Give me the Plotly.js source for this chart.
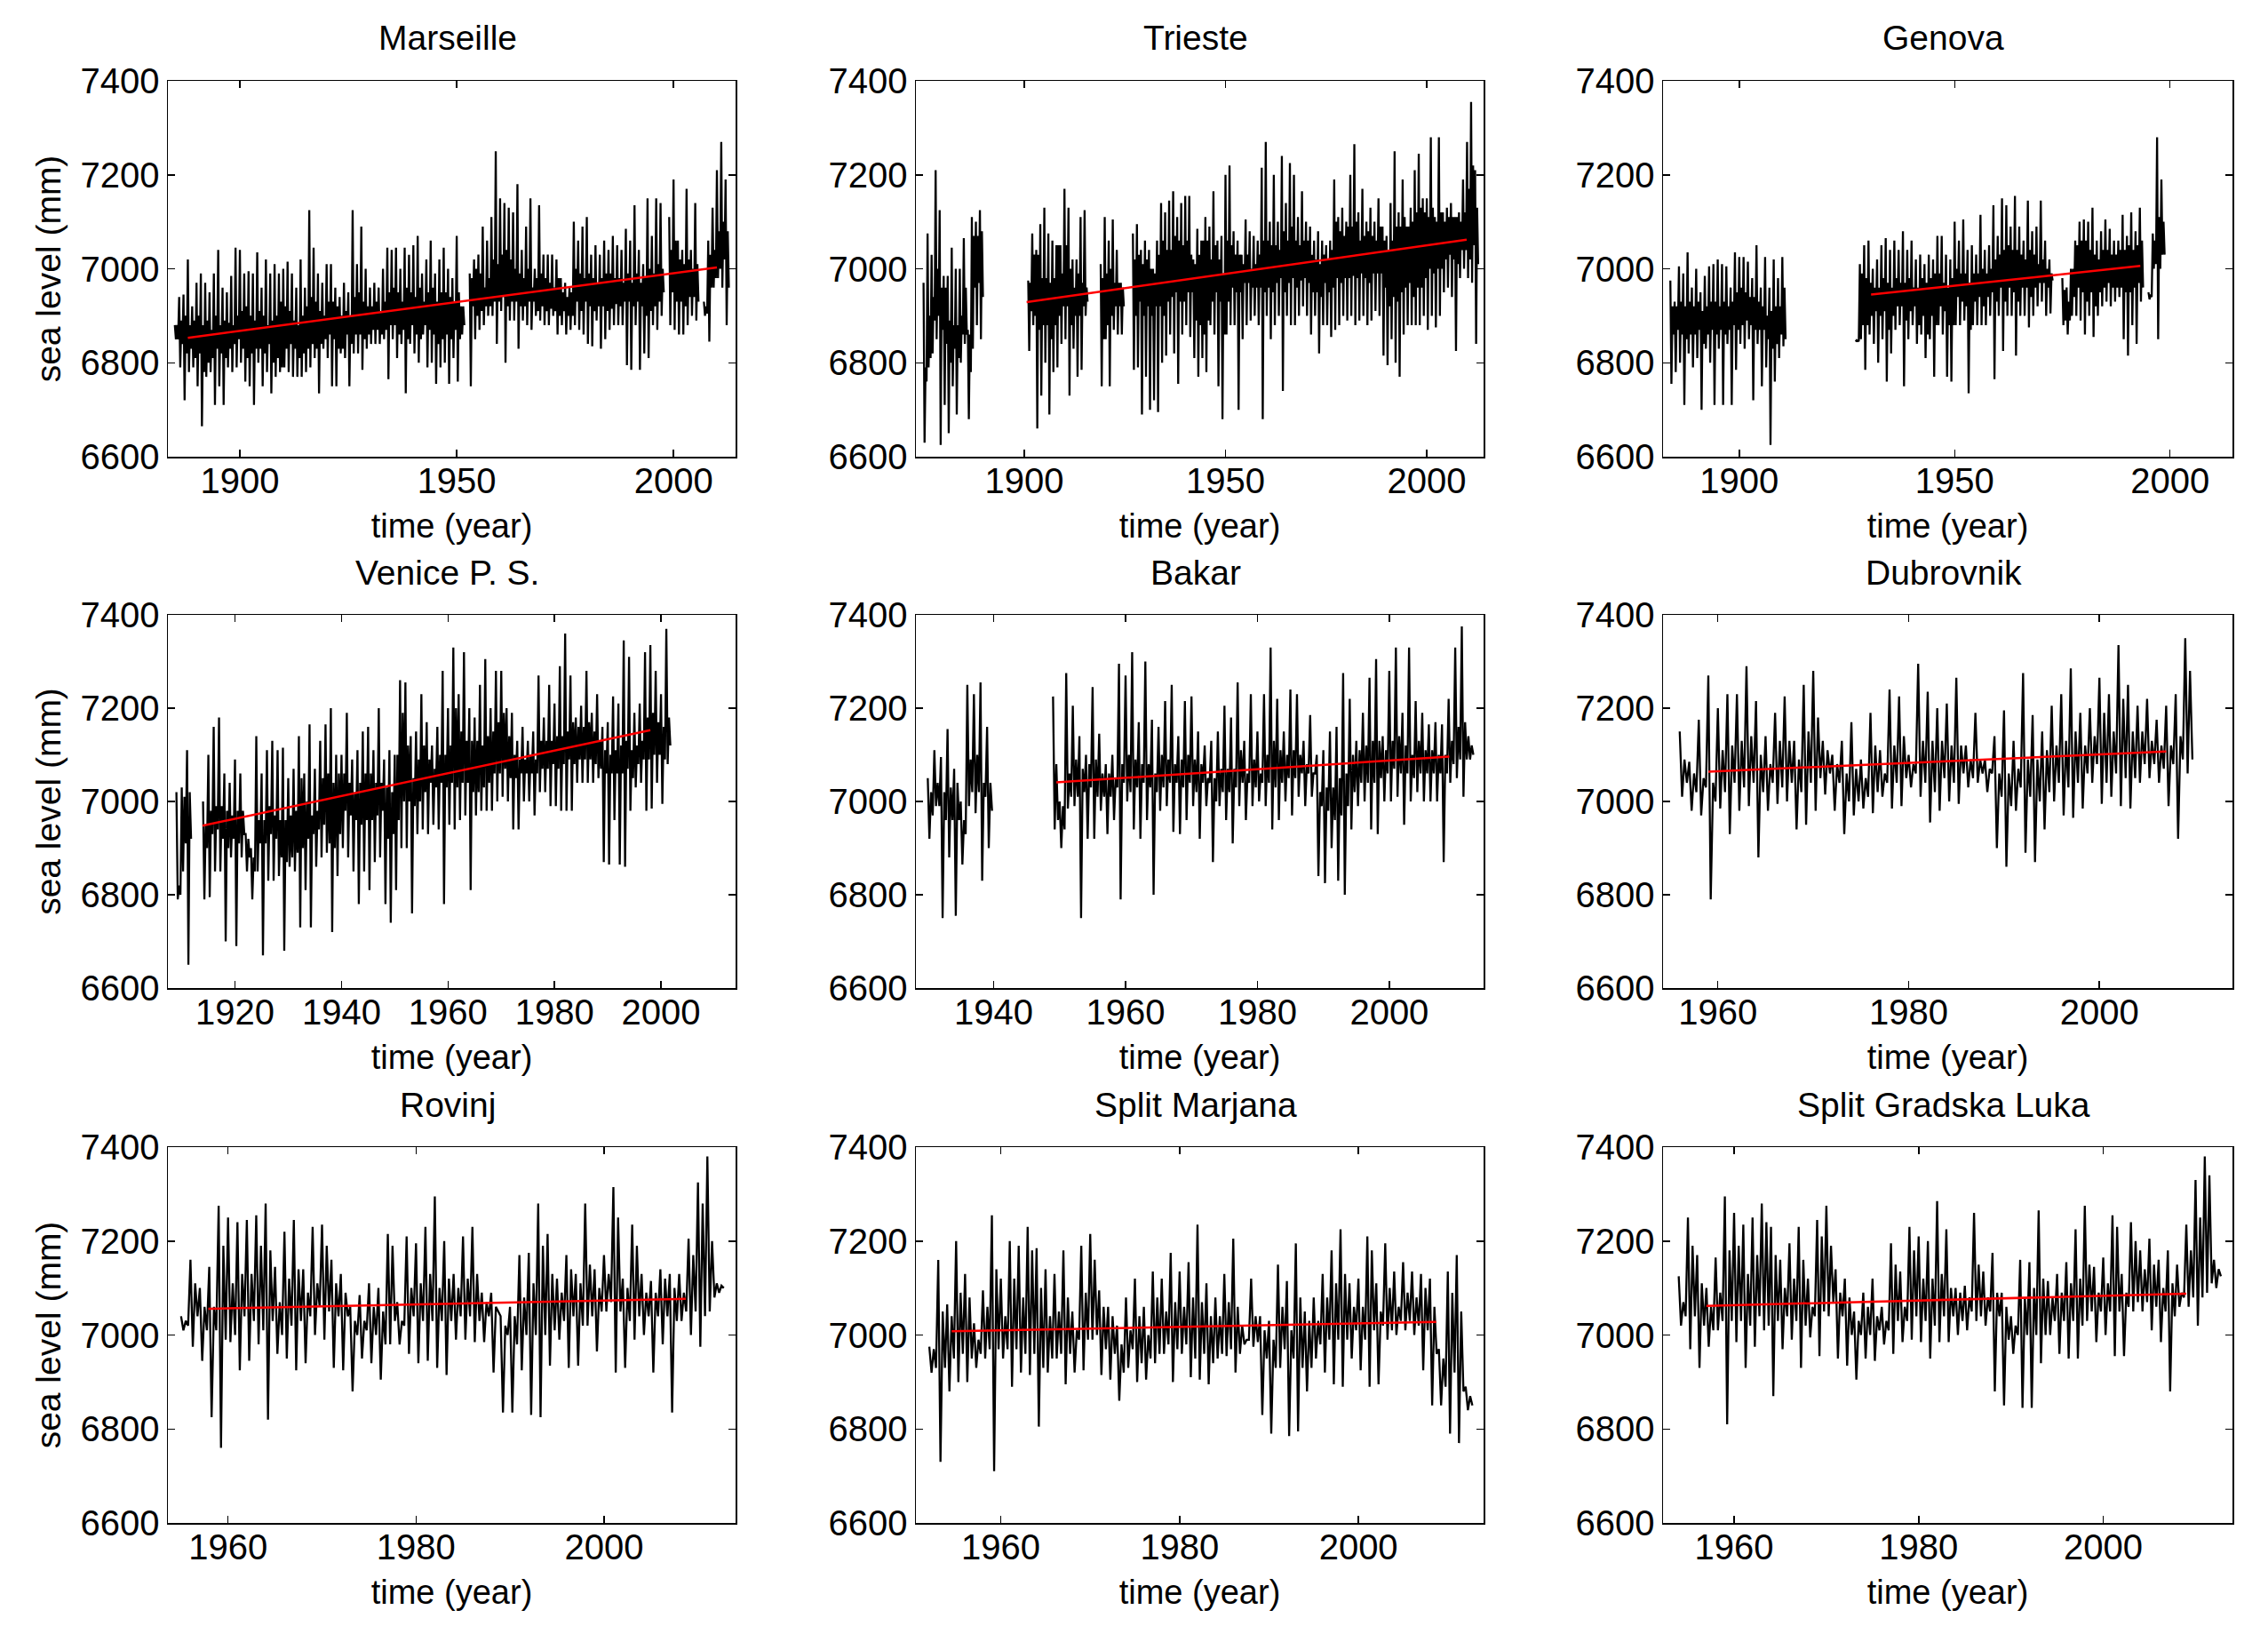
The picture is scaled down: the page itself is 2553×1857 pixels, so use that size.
<!DOCTYPE html>
<html>
<head>
<meta charset="utf-8">
<script src="https://cdn.plot.ly/plotly-3.0.1.min.js"></script>
<style>
  html, body { margin: 0; padding: 0; background: #fff; }
</style>
</head>
<body>
<div id="myChart" style="width:2553px;height:1857px;"></div>
<script>
// values, one per year from the start year (mm):
// Hi/Lo = the spikes, MidHi/MidLo = edges of the dense body of the record
const marseilleStart = 1885;
const marseilleHi = [
  6880,6940,6945,7020,6920,6970,6990,6970,6950,6990,
  7040,6960,6950,6985,7045,7040,6990,6995,6990,7035,
  6960,7020,6990,7010,6990,7000,7015,6990,6960,7020,
  6960,7125,7045,6990,6970,7010,7010,6960,6940,6970,
  6950,7125,7010,7090,7000,6960,6970,6960,7000,7045,
  7040,7045,7000,7045,7030,7050,7070,6990,7020,7060,
  6990,7020,7045,7000,6980,7070,6920,null,6990,7020,
  7030,7090,7060,7110,7250,7150,7140,7130,7120,7180,
  7040,7090,7150,7000,7135,7030,7030,7030,7020,6980,
  6970,6960,7100,7060,7090,7110,7030,7050,7030,7060,
  7040,7070,7050,7040,7085,7060,7135,7040,7010,7150,
  7070,7150,7140,null,7110,7190,7060,7040,7170,7040,
  7140,null,6930,7060,7130,7210,7270,7190];
const marseilleLo = [
  6850,6790,6720,6780,6790,6750,6665,6770,6780,6710,
  6750,6710,6790,6780,6790,6800,6760,6750,6710,6800,
  6750,6780,6735,6770,6780,6790,6780,6770,6770,6770,
  6780,6790,6810,6735,6830,6810,6750,6750,6820,6810,
  6750,6820,6820,6785,6830,6840,6840,6840,6850,6765,
  6850,6810,6840,6735,6840,6820,6800,6860,6790,6800,
  6755,6790,6800,6755,6810,6760,6860,null,6750,6850,
  6870,6880,6900,6900,6840,6910,6800,6890,6890,6830,
  6890,6880,6870,6900,6890,6880,6880,6900,6860,6880,
  6860,6870,6880,6870,6860,6840,6835,6890,6830,6850,
  6870,6880,6880,6880,6795,6785,6880,6785,6820,6810,
  6880,6870,6900,null,6880,6870,6860,6860,6880,6900,
  6890,null,6900,6845,6960,6980,6960,6880];
const marseilleMidHi = [
  6880,6890,6900,6880,6890,6900,6880,6890,6870,6900,
  6880,6890,6885,6880,6900,6910,6920,6900,6890,6910,
  6900,6880,6890,6900,6930,6920,6910,6890,6880,6900,
  6920,6940,6930,6910,6900,6930,6930,6920,6900,6910,
  6900,6940,6950,6930,6920,6920,6930,6910,6930,6950,
  6960,6950,6930,6960,6950,6940,6960,6930,6950,6960,
  6930,6950,6950,6940,6930,6950,6920,null,6980,7000,
  6990,6960,6980,7020,7010,7030,7040,7020,7000,6990,
  6980,7000,6960,6980,6990,6980,6970,6960,6980,6950,
  6940,6950,7000,6990,6980,6990,6980,6970,6980,6990,
  6990,6980,6980,6970,6990,6970,6990,6970,6980,7000,
  6990,7010,7000,null,7040,7060,7020,7010,7020,7000,
  7010,null,6920,7030,7040,7080,7100,7080];
const marseilleMidLo = [
  6850,6840,6820,6830,6810,6820,6780,6800,6810,6830,
  6820,6810,6830,6840,6850,6830,6810,6820,6830,6830,
  6820,6840,6800,6810,6790,6830,6840,6830,6810,6820,
  6830,6840,6830,6840,6850,6860,6850,6830,6830,6860,
  6840,6860,6860,6850,6860,6870,6870,6860,6870,6880,
  6880,6860,6870,6850,6880,6860,6850,6880,6870,6860,
  6840,6850,6860,6850,6870,6850,6880,null,6920,6900,
  6910,6920,6920,6930,6930,6940,6920,6930,6930,6920,
  6920,6930,6930,6910,6920,6910,6915,6910,6900,6910,
  6900,6900,6930,6910,6930,6920,6910,6920,6920,6910,
  6915,6925,6920,6930,6930,6920,6930,6920,6900,6910,
  6920,6930,6950,null,6950,6930,6930,6920,6940,6940,
  6930,null,6905,6960,6980,7000,7020,6960];
const marseilleTrendX = [1888,2010];
const marseilleTrendY = [6853,7003];
const marseilleTicks = [1900,1950,2000];
const marseilleRange = [1883.4,2014.3];

const triesteStart = 1875;
const triesteHi = [
  6970,7075,7030,7210,7125,6985,6985,7045,7000,7000,
  7065,6870,7110,7100,7125,null,null,null,null,null,
  null,null,null,null,null,null,6975,7075,7040,7095,
  7130,7075,7060,7050,7050,7170,7130,7020,7020,7110,
  7125,null,null,null,7010,7110,7060,7105,7040,6970,
  null,null,7075,7095,7040,7060,7040,7000,7060,7140,
  7120,7145,7165,7110,7140,7155,7155,7020,7085,7060,
  7110,7090,7165,7060,7070,7200,7220,7080,7060,7030,
  7105,7080,7070,7060,7215,7270,7100,7200,7100,7240,
  7140,7225,7200,7110,7165,7100,7090,7060,7080,7060,
  7050,7060,7190,7110,7130,7100,7200,7265,7120,7170,
  7100,7130,7100,7150,7090,7070,7140,7250,7120,7190,
  7090,7130,7210,7245,7150,7150,7280,7110,7280,7120,
  7130,7140,7110,7120,7190,7270,7355,7210];
const triesteLo = [
  6630,6790,6820,6850,6625,6710,6650,6750,6690,6800,
  6840,6680,6830,6880,6850,null,null,null,null,null,
  null,null,null,null,null,null,6825,6880,6660,6730,
  6800,6690,6780,6790,6840,6850,6730,6830,6770,6785,
  6900,null,null,null,6750,6850,6750,6870,6860,6860,
  null,null,6785,6790,6690,6770,6700,6720,6695,6800,
  6815,6860,6820,6755,6860,6880,6855,6810,6770,6810,
  6780,6880,6860,6750,6680,6860,6880,6880,6700,6850,
  6880,6890,6900,6880,6680,6900,6850,6880,6900,6740,
  6900,6880,6880,6900,6920,6900,6860,6900,6820,6880,
  6880,6855,6870,6880,6900,6890,6900,6880,6890,6900,
  6880,6890,6910,6900,6815,6795,6850,6800,6770,6860,
  6880,6880,6880,6880,6900,6870,6900,6875,6900,6950,
  6960,6940,6825,6980,7000,6980,6970,6840];
const triesteMidHi = [
  6790,6900,6940,7000,6960,6960,6890,6880,6880,6900,
  6960,6860,7070,7070,7080,null,null,null,null,null,
  null,null,null,null,null,null,6970,7030,7030,6980,
  6980,6970,6980,7050,6990,7050,7000,6960,6990,6970,
  6960,null,null,null,6980,6990,7000,6970,6970,6960,
  null,null,7020,7030,7010,7020,7000,6990,7030,7060,
  7040,7040,7070,7060,7050,7060,7030,7010,7030,7060,
  7060,7020,7050,7020,6990,7060,7050,7030,7030,7010,
  7030,7000,7010,7030,7060,7060,7050,7050,7040,7080,
  7060,7090,7060,7050,7060,7060,7030,7020,7010,7030,
  7020,7040,7100,7080,7070,7090,7090,7100,7060,7070,
  7080,7070,7060,7090,7060,7040,7060,7090,7090,7110,
  7090,7100,7120,7130,7120,7110,7130,7100,7120,7100,
  7110,7110,7110,7100,7120,7170,7220,7130];
const triesteMidLo = [
  6760,6810,6890,6900,6870,6840,6800,6830,6810,6860,
  6860,6780,6960,6970,6940,null,null,null,null,null,
  null,null,null,null,null,null,6910,6900,6870,6880,
  6880,6850,6880,6900,6920,6920,6880,6900,6900,6920,
  6930,null,null,null,6850,6880,6900,6920,6920,6920,
  null,null,6900,6930,6900,6920,6900,6920,6920,6900,
  6930,6940,6950,6930,6930,6950,6950,6890,6880,6860,
  6890,6930,6950,6930,6860,6930,6960,6950,6950,6970,
  6970,6960,6960,6960,6950,6960,6950,6970,6980,6950,
  6970,6980,6960,6975,6980,6970,6950,6950,6940,6970,
  6950,6960,6980,6970,6980,6980,6985,6980,6990,6980,
  6970,6990,6990,6990,6960,6920,6940,6930,6950,6960,
  6970,6940,6960,6960,6980,7000,6990,7000,7000,7020,
  7030,7020,7010,7040,7040,7020,7050,7010];
const triesteTrendX = [1900.6,2009.9];
const triesteTrendY = [6929,7062];
const triesteTicks = [1900,1950,2000];
const triesteRange = [1873.1,2014.1];

const genovaStart = 1884;
const genovaHi = [
  6975,6930,7005,6990,7035,6960,7000,6950,6985,7005,
  7010,7020,7010,7005,6960,7035,7025,7025,7015,6980,
  7050,6960,7025,6960,7020,6980,7025,null,null,null,
  null,null,null,null,null,null,null,null,null,null,
  null,null,null,6845,7010,7050,7060,7000,7020,7050,
  7065,7040,7060,7040,7080,7040,7060,7020,7030,7010,
  7030,7020,7070,7070,7030,7020,7100,7060,7105,7040,
  7050,7030,7115,7040,7050,7135,7070,7150,7135,7090,
  7155,7090,7060,7145,7080,7090,7145,7060,7020,null,
  null,6980,6960,7000,7060,7100,7105,7100,7130,7060,
  7080,7105,7085,7060,7060,7115,7070,7120,7080,7130,
  null,6950,7075,7280,7190];
const genovaLo = [
  6755,6780,6800,6710,6820,6790,6810,6700,6830,6800,
  6710,6830,6710,6840,6710,6785,6840,6830,6850,6720,
  6840,6750,6790,6625,6760,6810,6835,null,null,null,
  null,null,null,null,null,null,null,null,null,null,
  null,null,null,6848,6850,6785,6860,6840,6800,6850,
  6760,6820,6870,6880,6750,6850,6880,6840,6860,6810,
  6850,6770,6880,6860,6770,6760,6880,6880,6890,6735,
  6880,6880,6880,6880,6900,6765,6900,6825,6900,6900,
  6815,6900,6900,6875,6900,6920,6930,6900,6905,null,
  null,6880,6860,6900,6900,6890,6860,6900,6855,6900,
  6920,6930,6920,6930,6940,6850,6815,6880,6840,6930,
  null,6935,7000,6850,7030];
const genovaMidHi = [
  6920,6920,6930,6920,6930,6920,6930,6910,6920,6930,
  6930,6920,6930,6920,6930,6950,6960,6950,6940,6940,
  6930,6920,6900,6910,6920,6920,6960,null,null,null,
  null,null,null,null,null,null,null,null,null,null,
  null,null,null,6846,6990,6980,6970,6960,6960,6980,
  6970,6960,6980,6970,6970,6980,6960,6960,6980,6970,
  6980,6990,6990,6970,6960,6980,7000,6990,6990,6970,
  6990,6990,7000,6990,7000,7020,7030,7040,7050,7040,
  7040,7030,7020,7040,7030,7010,7020,7000,6990,null,
  null,6955,6930,7000,7050,7060,7060,7040,7030,7020,
  7040,7040,7030,7030,7040,7040,7050,7040,7050,7060,
  null,6945,7060,7110,7100];
const genovaMidLo = [
  6860,6870,6860,6850,6860,6860,6870,6840,6860,6870,
  6860,6870,6860,6870,6880,6870,6880,6890,6880,6870,
  6870,6870,6850,6830,6840,6860,6850,null,null,null,
  null,null,null,null,null,null,null,null,null,null,
  null,null,null,6847,6880,6880,6900,6910,6900,6910,
  6870,6900,6920,6920,6890,6910,6920,6880,6900,6860,
  6900,6880,6920,6910,6880,6880,6940,6930,6920,6870,
  6930,6940,6920,6940,6950,6930,6960,6930,6960,6950,
  6930,6960,6960,6940,6960,6970,6970,6960,6975,null,
  null,6890,6890,6940,6960,6950,6930,6950,6920,6950,
  6960,6970,6960,6960,6960,6950,6950,6960,6970,6960,
  null,6940,7010,7000,7030];
const genovaTrendX = [1930.6,1993.1];
const genovaTrendY = [6945,7006];
const genovaTicks = [1900,1950,2000];
const genovaRange = [1882.3,2014.5];

const veniceStart = 1909;
const veniceHi = [
  7020,7030,7110,null,null,7000,7100,7160,7180,7060,
  7040,7090,7060,6930,6900,7140,7060,7110,7130,7110,
  7115,7050,7070,7140,7060,7165,7070,7130,7165,7200,
  7100,7100,7190,7090,7110,7150,7160,7110,7200,7090,
  7110,7100,7260,7255,7140,7150,7230,7170,7120,7160,
  7280,7200,7330,7230,7320,7200,7180,7250,7305,7200,
  7280,7280,7200,7190,7130,7160,7130,7150,7270,7180,
  7250,7210,7290,7360,7270,7180,7205,7280,7190,7230,
  7160,7170,7225,7210,7345,7310,7190,7210,7320,7335,
  7280,7230,7370];
const veniceLo = [
  6790,6850,6650,null,null,6790,6795,6850,6850,6700,
  6880,6690,6880,6850,6790,6850,6670,6830,6830,6840,
  6680,6860,6850,6730,6810,6730,6860,6880,6890,6720,
  6840,6900,6880,6850,6780,6850,6810,6870,6880,6780,
  6740,6810,6900,6900,6760,6930,6940,6930,6950,6940,
  6780,6950,6940,6960,6970,6810,6970,6980,6980,6980,
  7000,7010,7000,6940,6940,7000,7000,6970,7020,7020,
  6990,6990,6980,6980,6980,7040,7040,7040,7040,7050,
  6870,6865,6960,6865,6860,6980,7030,7040,6980,6985,
  7040,6995,7080];
const veniceMidHi = [
  6820,7010,7020,null,null,6950,6980,6990,6990,6980,
  6970,6980,6980,6920,6880,6960,6960,6990,6970,6960,
  6960,6970,6980,7050,7000,6970,6980,7050,7060,7040,
  7060,7060,7040,7020,7040,7060,7060,7040,7040,7030,
  7020,7100,7190,7120,7050,7090,7120,7090,7070,7100,
  7100,7120,7200,7150,7130,7130,7130,7120,7140,7150,
  7170,7190,7140,7100,7090,7090,7100,7090,7130,7130,
  7130,7140,7140,7150,7170,7160,7160,7170,7150,7130,
  7110,7100,7110,7120,7130,7110,7120,7130,7180,7190,
  7170,7160,7180];
const veniceMidLo = [
  6800,6910,6920,null,null,6900,6930,6940,6920,6900,
  6920,6910,6930,6880,6850,6910,6910,6930,6920,6880,
  6870,6880,6890,6900,6920,6930,6940,6950,6910,6900,
  6930,6980,6970,6960,6950,6960,6960,6970,6980,6920,
  6930,6960,7000,7000,6990,7000,7020,7040,7030,7040,
  7030,7040,7030,7040,7040,7020,7020,7030,7040,7060,
  7060,7070,7050,7050,7060,7060,7060,7060,7070,7070,
  7080,7070,7080,7090,7080,7090,7090,7090,7080,7070,
  7060,7060,7060,7060,7070,7050,7080,7090,7090,7100,
  7100,7090,7120];
const veniceTrendX = [1913.9,1998];
const veniceTrendY = [6948,7153];
const veniceTicks = [1920,1940,1960,1980,2000];
const veniceRange = [1907.4,2014];

const bakarStart = 1930;
const bakarHi = [
  7050,7110,7095,7155,7070,7000,7250,7230,7255,7160,
  null,null,null,null,null,null,null,null,null,7225,
  7000,7275,7205,7140,7100,7245,7145,7080,7100,7295,
  7270,7320,7170,7300,7175,7160,7215,7250,7140,7215,
  7225,7150,7120,7130,7150,7205,7180,7255,7130,7230,
  7150,7230,7330,7220,7150,7240,7230,7130,7185,7100,
  7110,7150,7160,7275,7220,7130,7190,7265,7305,7140,
  7280,7330,7190,7330,7215,7190,7165,7170,7165,7220,
  7330,7375,7140];
const bakarLo = [
  6920,6990,6750,6880,6755,6865,6990,6975,6830,6900,
  null,null,null,null,null,null,null,null,null,6940,
  6900,6985,6990,6750,6920,6920,6980,6930,6960,6790,
  7000,6940,6920,6960,6800,6980,6990,6935,6930,6960,
  6990,6920,6990,6870,6990,6960,6910,6990,6960,6990,
  7000,6990,6940,6960,7000,6970,7010,6990,7010,6840,
  6825,6900,6830,6800,6940,6990,7000,6940,6930,7000,
  7000,7010,6950,7000,7020,7000,7000,7000,6870,7040,
  7050,7010,7090];
const bakarMidHi = [
  7020,7040,7020,7030,7040,6960,7090,7100,7040,7040,
  null,null,null,null,null,null,null,null,null,7080,
  6990,7060,7090,7070,7080,7090,7060,7060,7050,7080,
  7100,7090,7080,7080,7060,7100,7090,7080,7090,7100,
  7090,7080,7050,7050,7070,7070,7070,7110,7060,7090,
  7060,7100,7130,7110,7100,7110,7100,7080,7060,7020,
  7030,7030,7050,7060,7100,7110,7120,7130,7130,7110,
  7130,7140,7120,7100,7130,7110,7110,7100,7100,7130,
  7160,7170,7120];
const bakarMidLo = [
  6970,6990,6960,6960,6960,6930,7020,7020,7010,6980,
  null,null,null,null,null,null,null,null,null,6960,
  6940,7010,7010,7020,7030,7010,7010,7010,7030,7040,
  7020,7030,7040,7030,7020,7030,7040,7040,7030,7040,
  7020,7040,7040,7000,7020,7020,7030,7040,7040,7030,
  7040,7040,7030,7040,7050,7050,7060,7060,7060,6990,
  6980,6960,6970,6990,7020,7040,7040,7040,7050,7060,
  7070,7060,7060,7050,7060,7060,7060,7060,7060,7080,
  7090,7090,7100];
const bakarTrendX = [1949.5,2009.1];
const bakarTrendY = [7041,7096];
const bakarTicks = [1940,1960,1980,2000];
const bakarRange = [1928.2,2014.3];

const dubrovnikStart = 1956;
const dubrovnikHi = [
  7150,7085,7175,7270,7200,7230,7230,7290,7215,7140,
  7190,7225,7130,7250,7280,7130,7100,7130,7170,7090,
  7190,7110,7240,7225,7100,7295,7235,7200,7210,7265,
  7120,7190,7090,7140,7195,7130,7275,7185,7150,7205,
  7230,7285,7190,7200,7265,7230,7335,7250,7205,7220,
  7175,7205,7230,7350];
const dubrovnikLo = [
  7010,6980,6970,6790,6985,6930,6980,6990,6880,6980,
  6995,7000,6940,6950,6980,7015,6980,6930,6970,6985,
  6975,7010,6985,6990,7030,7010,6955,6980,7000,6995,
  7030,7040,7020,6900,6860,6980,6890,6870,6940,7000,
  6970,6965,6985,7040,6995,7010,6990,6985,7040,7050,
  7040,6990,6920,7060];
const dubrovnikMidHi = [
  7090,7060,7050,7040,7110,7120,7130,7140,7100,7080,
  7130,7130,7090,7150,7180,7110,7080,7060,7070,7050,
  7120,7060,7120,7140,7080,7130,7130,7130,7120,7120,
  7090,7090,7070,7060,7060,7070,7090,7090,7110,7120,
  7130,7150,7120,7140,7190,7150,7220,7150,7150,7130,
  7120,7120,7140,7280];
const dubrovnikMidLo = [
  7040,7020,7030,7000,7020,7040,7030,7040,7020,7040,
  7030,7040,7020,7040,7050,7060,7040,7000,7000,7010,
  7020,7040,7040,7050,7060,7040,7020,7050,7040,7060,
  7050,7060,7060,7010,6990,7030,7010,7000,7020,7040,
  7030,7040,7060,7080,7040,7060,7050,7050,7080,7080,
  7070,7080,7090,7090];
const dubrovnikTrendX = [1959,2007];
const dubrovnikTrendY = [7064,7107];
const dubrovnikTicks = [1960,1980,2000];
const dubrovnikRange = [1954.25,2013.95];

const rovinjStart = 1955;
const rovinjHi = [
  7040,7160,7100,7145,7275,7250,7240,7245,7255,7280,
  7145,7220,7245,7140,7230,7235,7160,7130,7060,7085,
  7110,7100,7215,7070,7210,7195,7230,7295,7200,7130,
  7210,7230,7090,7090,7040,7060,7170,7175,7280,7215,
  7120,7170,7130,7280,7140,7170,7315,7120,7235,7130,
  7115,7140,7130,7130,7205,7325,7380,7110];
const rovinjLo = [
  7010,6975,6945,6825,6760,6985,6925,6945,6980,6820,
  6960,6950,6925,6940,7000,6990,6930,6925,6880,6950,
  6940,6905,6980,6980,6960,6940,6945,6930,6915,6990,
  6990,6985,6985,6920,6835,6835,6925,6830,6825,6935,
  6990,6930,6935,7020,6965,7050,6920,6930,6990,7000,
  6920,6980,6835,7030,7000,6975,7050,7090];
const rovinjMidHi = [
  7030,7110,7060,7060,7190,7110,7130,7130,7190,7180,
  7070,7120,7140,7090,7110,7190,7110,7090,7030,7030,
  7060,7050,7190,7030,7100,7110,7130,7100,7120,7100,
  7120,7130,7070,7060,7020,7040,7080,7110,7190,7130,
  7090,7140,7110,7150,7100,7130,7250,7100,7190,7090,
  7090,7120,7100,7090,7170,7280,7200,7105];
const rovinjMidLo = [
  7020,7040,7010,7010,6990,7000,7040,7030,7010,7030,
  7000,7020,7030,7040,7060,7050,7040,7040,7000,7010,
  7000,6980,7030,7020,7040,7030,7030,7030,7030,7040,
  7040,7030,7040,7050,7000,6980,7000,7000,7000,7010,
  7030,7040,7020,7040,7050,7070,7050,7030,7040,7040,
  7040,7040,7030,7050,7050,7040,7080,7100];
const rovinjTrendX = [1957.9,2008.7];
const rovinjTrendY = [7056,7077];
const rovinjTicks = [1960,1980,2000];
const rovinjRange = [1953.6,2014];

const marjanaStart = 1952;
const marjanaHi = [
  6975,7160,7065,7200,7130,7025,7095,7255,7120,7200,
  7190,7230,7185,7140,7130,7180,7050,7190,7215,7095,
  7060,7020,7080,7120,7060,7135,7120,7175,7135,7155,
  7235,7110,7080,7130,7205,7020,7120,7040,7030,7150,
  7115,7195,7050,7080,7130,7180,7225,7110,7120,7210,
  7110,7195,7135,7155,7135,7130,7120,6970,7135,7170,
  6890];
const marjanaLo = [
  6920,6730,6880,6900,6900,6930,6950,6710,6950,6890,
  6920,6915,6805,6920,6950,6895,6920,6925,6990,6915,
  6905,6860,6930,6900,6905,6940,6960,6900,6960,6910,
  6905,6895,6950,6955,6920,6980,6975,6830,6790,6930,
  6785,6795,6880,6950,6920,6895,6890,6950,6925,6890,
  6895,6990,7000,7010,7000,6925,6850,6850,6790,6770,
  6840];
const marjanaMidHi = [
  6970,7050,7040,7090,7080,6990,7060,7140,7040,7120,
  7080,7180,7100,7040,7050,7080,7010,7090,7160,7060,
  7040,6980,7010,7040,7000,7080,7050,7070,7060,7080,
  7070,7040,7040,7070,7060,6990,7040,7010,6990,7060,
  7010,7080,7030,7030,7080,7110,7130,7060,7060,7180,
  7050,7100,7060,7090,7080,7100,7060,6950,7090,7050,
  6870];
const marjanaMidLo = [
  6930,6930,6950,6960,6950,6960,6970,6970,6970,6970,
  6960,6960,6930,6950,6960,6960,6990,6990,7000,6970,
  6960,6920,6970,6940,6950,6960,6980,6970,6980,6950,
  6960,6940,6960,6970,6960,6990,6985,6950,6930,6970,
  6950,6930,6930,6980,6990,6990,6990,7010,6990,7010,
  7020,7010,7030,7030,7020,7010,6960,6890,6920,6880,
  6850];
const marjanaTrendX = [1954.5,2008.7];
const marjanaTrendY = [7008,7028];
const marjanaTicks = [1960,1980,2000];
const marjanaRange = [1950.5,2014];

const gradskaStart = 1954;
const gradskaHi = [
  7125,7250,7170,7100,7165,7295,7260,7235,7250,7280,
  7230,7160,7195,7230,7120,7245,7275,7140,7120,7050,
  7090,7120,7060,7195,7135,7230,7210,7200,7285,7225,
  7100,7105,7260,7135,7175,7090,7040,7160,7155,7265,
  7115,7130,7155,7225,7275,7145,7165,7255,7130,7240,
  7180,7205,7160,7180,7150,7235,7330,7380,7160];
const gradskaLo = [
  7020,6970,6930,6975,7010,6810,6985,6930,6975,7010,
  6870,6970,6990,6930,6995,6955,7040,6950,6935,6905,
  6950,6945,6980,6960,6985,6990,6985,6950,6985,6985,
  7000,7010,7030,7020,6880,6850,6960,6845,6845,6940,
  7000,6960,6950,6950,7030,6985,7000,6955,6955,7050,
  7050,7010,6985,6880,7060,7060,7020,7090,7100];
const gradskaMidHi = [
  7070,7190,7110,7060,7090,7180,7190,7130,7170,7240,
  7170,7100,7120,7160,7060,7210,7190,7090,7080,7030,
  7060,7040,7030,7150,7060,7180,7120,7120,7130,7100,
  7090,7080,7150,7080,7090,7060,7020,7080,7100,7120,
  7080,7090,7110,7120,7150,7090,7110,7230,7090,7200,
  7140,7150,7100,7110,7090,7180,7250,7340,7140];
const gradskaMidLo = [
  7040,7040,7020,7010,7030,7030,7030,7020,7040,7020,
  7030,7040,7030,7020,7040,7050,7070,7040,7000,7000,
  7000,7010,7010,7030,7030,7040,7030,7020,7040,7040,
  7030,7050,7040,7050,7040,6990,7000,7000,7000,7000,
  7030,7030,7030,7020,7050,7050,7050,7050,7060,7070,
  7070,7060,7050,7040,7080,7080,7080,7110,7125];
const gradskaTrendX = [1957,2009];
const gradskaTrendY = [7062,7088];
const gradskaTicks = [1960,1980,2000];
const gradskaRange = [1952.3,2014];

const titles = ["Marseille","Trieste","Genova","Venice P. S.","Bakar","Dubrovnik","Rovinj","Split Marjana","Split Gradska Luka"];
const yTicks = [6600,6800,7000,7200,7400];

const stations = [
  [marseilleStart,marseilleHi,marseilleLo,marseilleMidHi,marseilleMidLo,marseilleTrendX,marseilleTrendY,marseilleTicks,marseilleRange],
  [triesteStart,triesteHi,triesteLo,triesteMidHi,triesteMidLo,triesteTrendX,triesteTrendY,triesteTicks,triesteRange],
  [genovaStart,genovaHi,genovaLo,genovaMidHi,genovaMidLo,genovaTrendX,genovaTrendY,genovaTicks,genovaRange],
  [veniceStart,veniceHi,veniceLo,veniceMidHi,veniceMidLo,veniceTrendX,veniceTrendY,veniceTicks,veniceRange],
  [bakarStart,bakarHi,bakarLo,bakarMidHi,bakarMidLo,bakarTrendX,bakarTrendY,bakarTicks,bakarRange],
  [dubrovnikStart,dubrovnikHi,dubrovnikLo,dubrovnikMidHi,dubrovnikMidLo,dubrovnikTrendX,dubrovnikTrendY,dubrovnikTicks,dubrovnikRange],
  [rovinjStart,rovinjHi,rovinjLo,rovinjMidHi,rovinjMidLo,rovinjTrendX,rovinjTrendY,rovinjTicks,rovinjRange],
  [marjanaStart,marjanaHi,marjanaLo,marjanaMidHi,marjanaMidLo,marjanaTrendX,marjanaTrendY,marjanaTicks,marjanaRange],
  [gradskaStart,gradskaHi,gradskaLo,gradskaMidHi,gradskaMidLo,gradskaTrendX,gradskaTrendY,gradskaTicks,gradskaRange],
];

// page layout in pixels
const W = 2553, H = 1857;
const colLeft = [189, 1031, 1872];
const colRight = [828, 1670, 2513];
const rowTop = [91, 692, 1291];
const rowBottom = [514, 1112, 1714];
const FONT = "Liberation Sans, Arial, sans-serif";

// four readings a year, same kind of line as the monthly record
function yearLine(start, hi, lo, midHi, midLo) {
  var x = [], y = [];
  for (let i = 0; i < hi.length; i++) {
    if (hi[i] === null) {
      x.push(null);
      y.push(null);
      continue;
    }
    x.push(start + i, start + i + 0.25, start + i + 0.5, start + i + 0.75);
    y.push(hi[i], lo[i], midHi[i], midLo[i]);
  }
  return { x: x, y: y };
}

var data = [];
var layout = {
  width: W,
  height: H,
  margin: { l: 0, r: 0, t: 0, b: 0 },
  paper_bgcolor: "#fff",
  plot_bgcolor: "#fff",
  showlegend: false,
  font: { family: FONT, size: 39, color: "#000" },
  annotations: [],
};

stations.forEach((s, n) => {
  var col = n % 3, row = Math.floor(n / 3);
  var id = n === 0 ? "" : String(n + 1);
  var xa = "x" + id, ya = "y" + id;

  var line = yearLine(s[0], s[1], s[2], s[3], s[4]);
  data.push({
    x: line.x, y: line.y, xaxis: xa, yaxis: ya,
    mode: "lines", type: "scatter",
    line: { color: "#000", width: 2.3 },
  });

  data.push({
    x: s[5], y: s[6], xaxis: xa, yaxis: ya,
    mode: "lines", type: "scatter",
    line: { color: "#ff0000", width: 2.5 },
  });

  layout["xaxis" + id] = {
    domain: [colLeft[col] / W, colRight[col] / W],
    range: s[8],
    anchor: ya,
    tickmode: "array",
    tickvals: s[7],
    ticktext: s[7].map(String),
    ticks: "inside",
    ticklen: 8,
    tickwidth: 1.5,
    tickcolor: "#000",
    ticklabelstandoff: -9,
    showline: true,
    mirror: "ticks",
    linecolor: "#000",
    linewidth: 1.5,
    showgrid: false,
    zeroline: false,
    tickfont: { family: FONT, size: 40, color: "#000" },
    title: { text: "time (year)", font: { family: FONT, size: 38, color: "#000" }, standoff: 17 },
  };
  layout["yaxis" + id] = {
    domain: [1 - rowBottom[row] / H, 1 - rowTop[row] / H],
    range: [6600, 7400],
    anchor: xa,
    tickmode: "array",
    tickvals: yTicks,
    ticktext: yTicks.map(String),
    ticks: "inside",
    ticklen: 8,
    tickwidth: 1.5,
    tickcolor: "#000",
    showline: true,
    mirror: "ticks",
    linecolor: "#000",
    linewidth: 1.5,
    showgrid: false,
    zeroline: false,
    tickfont: { family: FONT, size: 40, color: "#000" },
    title: col === 0
      ? { text: "sea level (mm)", font: { family: FONT, size: 39, color: "#000" }, standoff: 10 }
      : undefined,
  };

  layout.annotations.push({
    text: titles[n],
    xref: "paper", yref: "paper",
    x: (colLeft[col] + colRight[col]) / 2 / W - 5 / W,
    y: 1 - (rowTop[row] - 48) / H,
    xanchor: "center", yanchor: "middle",
    showarrow: false,
    font: { family: FONT, size: 39, color: "#000" },
  });
});

Plotly.newPlot("myChart", data, layout, { displayModeBar: false, staticPlot: true });
</script>
</body>
</html>
